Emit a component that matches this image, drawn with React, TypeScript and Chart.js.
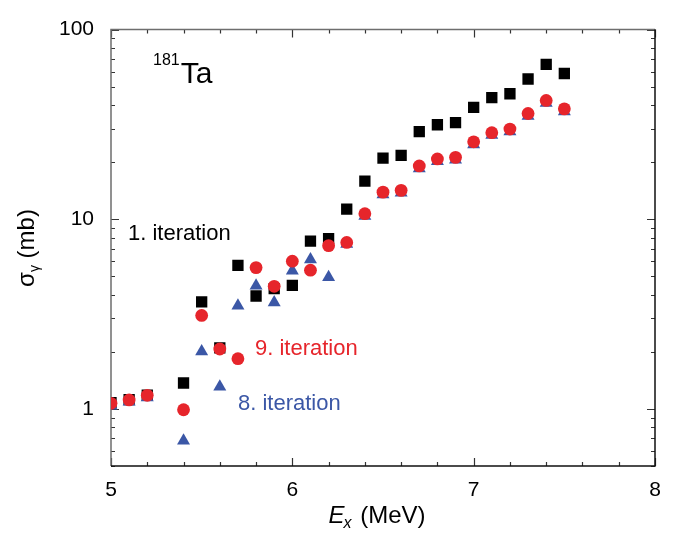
import React, { useEffect, useRef } from 'react';
import { Chart, registerables } from 'chart.js';

Chart.register(...registerables);

const energies = [5.0, 5.1, 5.2, 5.4, 5.5, 5.6, 5.7, 5.8, 5.9, 6.0, 6.1, 6.2, 6.3, 6.4, 6.5, 6.6, 6.7, 6.8, 6.9, 7.0, 7.1, 7.2, 7.3, 7.4, 7.5];
const iter1 = [1.08, 1.12, 1.18, 1.37, 3.67, 2.1, 5.71, 3.94, 4.31, 4.48, 7.66, 7.91, 11.3, 15.9, 21.0, 21.7, 29.0, 31.5, 32.3, 38.9, 43.8, 45.9, 54.9, 65.5, 58.7];
const iter9 = [1.07, 1.115, 1.18, 0.99, 3.11, 2.07, 1.84, 5.56, 4.43, 6.01, 5.39, 7.26, 7.55, 10.7, 13.9, 14.2, 19.1, 20.8, 21.2, 25.6, 28.6, 29.9, 36.1, 42.3, 38.2];
const iter8 = [1.04, 1.09, 1.15, 0.679, 2.01, 1.31, 3.5, 4.46, 3.64, 5.35, 6.13, 4.94, 7.4, 10.4, 13.5, 13.8, 18.5, 20.2, 20.6, 24.8, 27.8, 29.0, 35.0, 41.0, 37.0];

const xTickValues = [5, 6, 7, 8];
const yTickValues = [1, 10, 100];

const FONT = '"Liberation Sans", Arial, Helvetica, sans-serif';
const BLACK = '#000000';
const RED = '#e6252b';
const BLUE = '#3b57a6';

const toPoints = (ys: number[]) => energies.map((x, i) => ({ x, y: ys[i] }));

const framePlugin = {
  id: 'frame',
  beforeDatasetsDraw(chart: any) {
    const { ctx, chartArea: a, scales } = chart;
    const xs = scales.x;
    const ys = scales.y;
    ctx.save();
    ctx.lineWidth = 1.2;
    ctx.strokeStyle = '#333333';
    ctx.beginPath();
    for (let k = 0; k <= 15; k++) {
      const v = 5 + k * 0.2;
      const px = Math.round(xs.getPixelForValue(v)) + 0.5;
      const len = k % 5 === 0 ? 8 : 4;
      ctx.moveTo(px, a.bottom);
      ctx.lineTo(px, a.bottom - len);
      ctx.moveTo(px, a.top);
      ctx.lineTo(px, a.top + len);
    }
    for (let d = -1; d <= 2; d++) {
      for (let m = 1; m <= 9; m++) {
        const v = m * Math.pow(10, d);
        if (v < 0.5 - 1e-9 || v > 100 + 1e-9) continue;
        const py = Math.round(ys.getPixelForValue(v)) + 0.5;
        const len = m === 1 ? 8 : 4;
        ctx.moveTo(a.left, py);
        ctx.lineTo(a.left + len, py);
        ctx.moveTo(a.right, py);
        ctx.lineTo(a.right - len, py);
      }
    }
    ctx.stroke();
    ctx.lineWidth = 1.5;
    ctx.strokeStyle = '#6e6e6e';
    ctx.beginPath();
    ctx.moveTo(a.left, a.bottom);
    ctx.lineTo(a.left, a.top);
    ctx.lineTo(a.right, a.top);
    ctx.stroke();
    ctx.strokeStyle = '#111111';
    ctx.beginPath();
    ctx.moveTo(a.left, a.bottom);
    ctx.lineTo(a.right, a.bottom);
    ctx.lineTo(a.right, a.top);
    ctx.stroke();
    ctx.restore();
  },
  afterDraw(chart: any) {
    const { ctx } = chart;
    ctx.save();
    ctx.textBaseline = 'alphabetic';
    ctx.textAlign = 'left';

    // 181Ta label
    ctx.fillStyle = BLACK;
    ctx.font = `16px ${FONT}`;
    ctx.fillText('181', 153, 65);
    const w181 = ctx.measureText('181').width;
    ctx.font = `30px ${FONT}`;
    ctx.fillText('Ta', 153 + w181 + 1, 83);

    // iteration labels
    ctx.font = `22px ${FONT}`;
    ctx.fillStyle = BLACK;
    ctx.fillText('1. iteration', 128, 240);
    ctx.fillStyle = RED;
    ctx.fillText('9. iteration', 255, 355);
    ctx.fillStyle = BLUE;
    ctx.fillText('8. iteration', 238, 410);

    // x axis title: E_x (MeV)
    ctx.fillStyle = BLACK;
    const big = 24;
    const sub = 16;
    ctx.font = `italic ${big}px ${FONT}`;
    const wE = ctx.measureText('E').width;
    ctx.font = `italic ${sub}px ${FONT}`;
    const wx = ctx.measureText('x').width;
    ctx.font = `${big}px ${FONT}`;
    const wRest = ctx.measureText(' (MeV)').width;
    const total = wE + wx + 1 + wRest;
    const cx = 377;
    let tx = cx - total / 2;
    const base = 523;
    ctx.font = `italic ${big}px ${FONT}`;
    ctx.fillText('E', tx, base);
    tx += wE;
    ctx.font = `italic ${sub}px ${FONT}`;
    ctx.fillText('x', tx - 1, base + 5);
    tx += wx + 1;
    ctx.font = `${big}px ${FONT}`;
    ctx.fillText(' (MeV)', tx, base);

    // y axis title: σγ (mb)
    ctx.translate(34, 248);
    ctx.rotate(-Math.PI / 2);
    ctx.font = `${big}px ${FONT}`;
    const wS = ctx.measureText('σ').width;
    ctx.font = `${sub - 2}px ${FONT}`;
    const wG = ctx.measureText('γ').width;
    ctx.font = `${big}px ${FONT}`;
    const wMb = ctx.measureText(' (mb)').width;
    const tot2 = wS + wG + wMb;
    let ty = -tot2 / 2;
    ctx.fillText('σ', ty, 0);
    ty += wS;
    ctx.font = `${sub - 2}px ${FONT}`;
    ctx.fillText('γ', ty, 5);
    ty += wG;
    ctx.font = `${big}px ${FONT}`;
    ctx.fillText(' (mb)', ty, 0);
    ctx.restore();
  },
};

export default function App() {
  const canvasRef = useRef<HTMLCanvasElement | null>(null);

  useEffect(() => {
    const canvas = canvasRef.current;
    if (!canvas) return;
    const chart = new Chart(canvas, {
      type: 'scatter',
      data: {
        datasets: [
          {
            label: '9. iteration',
            data: toPoints(iter9),
            pointStyle: 'circle',
            pointRadius: 6.4,
            pointHoverRadius: 6.4,
            backgroundColor: RED,
            borderWidth: 0,
          },
          {
            label: '8. iteration',
            data: toPoints(iter8),
            pointStyle: 'triangle',
            pointRadius: 7.5,
            pointHoverRadius: 7.5,
            backgroundColor: BLUE,
            borderWidth: 0,
          },
          {
            label: '1. iteration',
            data: toPoints(iter1),
            pointStyle: 'rect',
            pointRadius: 8,
            pointHoverRadius: 8,
            backgroundColor: BLACK,
            borderWidth: 0,
          },
        ],
      },
      options: {
        responsive: false,
        animation: false,
        devicePixelRatio: 1,
        layout: { padding: { left: 0, right: 25, top: 14, bottom: 0 } },
        plugins: {
          legend: { display: false },
          tooltip: { enabled: false },
        },
        scales: {
          x: {
            type: 'linear',
            min: 5,
            max: 8,
            afterBuildTicks: (scale: any) => {
              scale.ticks = xTickValues.map((v) => ({ value: v }));
            },
            afterFit: (scale: any) => {
              scale.height = 69;
            },
            grid: { display: false, drawTicks: false },
            border: { display: false },
            ticks: {
              padding: 12,
              color: BLACK,
              font: { family: FONT, size: 21 },
              callback: (v: any) => String(v),
            },
          },
          y: {
            type: 'logarithmic',
            min: 0.5,
            max: 100,
            afterBuildTicks: (scale: any) => {
              scale.ticks = yTickValues.map((v) => ({ value: v }));
            },
            afterFit: (scale: any) => {
              scale.width = 111;
            },
            grid: { display: false, drawTicks: false },
            border: { display: false },
            ticks: {
              padding: 17,
              color: BLACK,
              font: { family: FONT, size: 21 },
              callback: (v: any) => String(v),
            },
          },
        },
      },
      plugins: [framePlugin],
    });
    return () => chart.destroy();
  }, []);

  return (
    <div style={{ position: 'absolute', left: 0, top: 0, width: 680, height: 535, background: '#ffffff' }}>
      <canvas ref={canvasRef} width={680} height={535} style={{ display: 'block' }} />
    </div>
  );
}
